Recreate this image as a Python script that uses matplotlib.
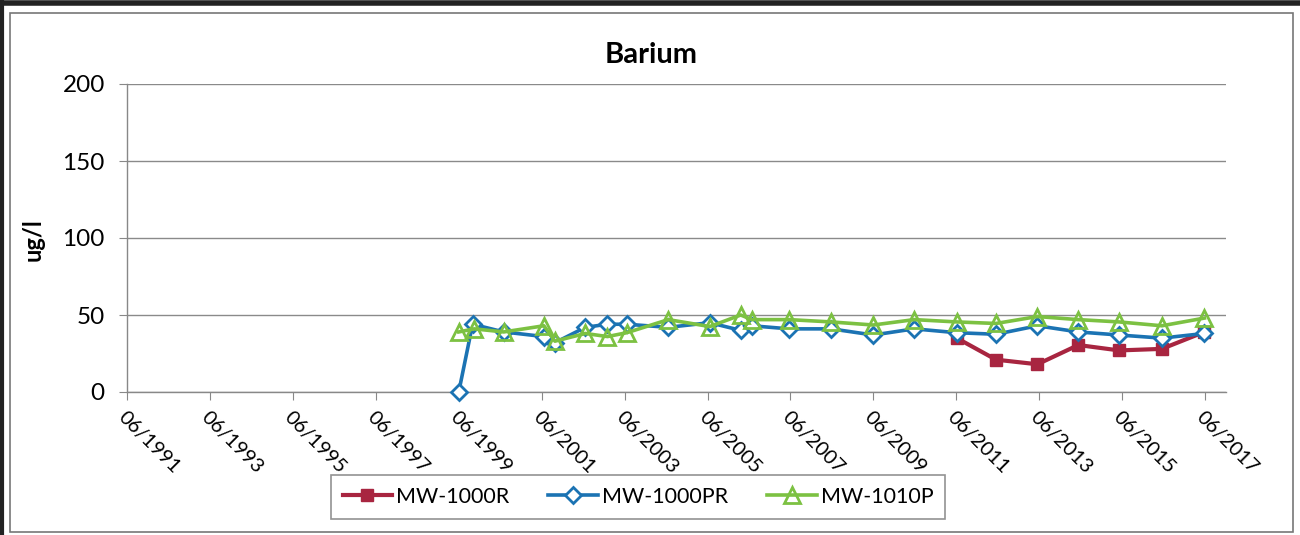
import matplotlib
matplotlib.use("Agg")
import matplotlib.pyplot as plt
from matplotlib.patches import Rectangle
from matplotlib.lines import Line2D
import pandas as pd

plt.rcParams['font.family'] = ['Lato', 'DejaVu Sans']

title = "Barium"
y_label = "ug/l"

r_dates = ["2011-06-05", "2012-05-15", "2013-05-15", "2014-05-10", "2015-05-05",
           "2016-05-15", "2017-05-25"]
r_vals = [35, 21, 18, 30.5, 27, 28, 39]

pr_dates = ["1999-06-01", "1999-10-01", "2000-07-01", "2001-06-20", "2001-09-25",
            "2002-06-20", "2003-01-01", "2003-06-20", "2004-06-20", "2005-06-20",
            "2006-03-20", "2006-06-25", "2007-05-20", "2008-05-25", "2009-05-30",
            "2010-05-25", "2011-06-05", "2012-05-15", "2013-05-15", "2014-05-10",
            "2015-05-05", "2016-05-15", "2017-05-25"]
pr_vals = [0, 44, 39, 36, 32, 42, 44, 44, 42, 45, 40, 43, 41, 41, 37,
           41, 38.5, 37.5, 43, 39, 37, 35, 38]

p_dates = ["1999-06-01", "1999-10-15", "2000-07-01", "2001-06-20", "2001-09-25",
           "2002-06-20", "2003-01-01", "2003-06-20", "2004-06-20", "2005-06-20",
           "2006-03-20", "2006-06-25", "2007-05-20", "2008-05-25", "2009-05-30",
           "2010-05-25", "2011-06-05", "2012-05-15", "2013-05-15", "2014-05-10",
           "2015-05-05", "2016-05-15", "2017-05-25"]
p_vals = [39, 41, 39, 43, 33, 38, 36, 38.5, 47, 42.5, 50, 47, 47, 45.5, 43.5,
          47, 45.5, 44.5, 49, 47, 45.5, 43, 48]

series_names = ["MW-1000R", "MW-1000PR", "MW-1010P"]
tick_years = list(range(1991, 2018, 2))
tick_labels = [f"06/{y}" for y in tick_years]
y_ticks = [0, 50, 100, 150, 200]

c_red = '#A82540'
c_blue = '#1B73B3'
c_green = '#7CC142'

fig = plt.figure(figsize=(13, 5.35), dpi=100)
# frame
fig.patches.append(Rectangle((10/1300, 3/535), 1283/1300, 519/535, transform=fig.transFigure,
                             fill=False, edgecolor='#777777', lw=1.2))
fig.lines.append(Line2D([0, 1], [1 - 2.5/535, 1 - 2.5/535], transform=fig.transFigure,
                        color='#222222', lw=4))
fig.lines.append(Line2D([2/1300, 2/1300], [0, 1], transform=fig.transFigure,
                        color='#222222', lw=3))

ax = fig.add_axes([127/1300, 143/535, 1099/1300, 308/535])

ax.plot(pd.to_datetime(r_dates), r_vals, color=c_red, lw=3, marker='s', ms=8.5,
        mfc=c_red, mec=c_red, label=series_names[0], zorder=3, clip_on=False)
ax.plot(pd.to_datetime(pr_dates), pr_vals, color=c_blue, lw=2.6, marker='D', ms=8,
        mfc='white', mec=c_blue, mew=2, label=series_names[1], zorder=4, clip_on=False)
ax.plot(pd.to_datetime(p_dates), p_vals, color=c_green, lw=2.6, marker='^', ms=11,
        mfc='none', mec=c_green, mew=2, label=series_names[2], zorder=5, clip_on=False)

ax.set_xlim(pd.Timestamp("1991-06-01"), pd.Timestamp("2017-12-01"))
ax.set_ylim(0, 200)
ax.set_yticks(y_ticks)
ax.set_yticklabels([str(v) for v in y_ticks], fontsize=17.5)
ticks = [pd.Timestamp(f"{y}-06-01") for y in tick_years]
ax.set_xticks(ticks)
ax.set_xticklabels(tick_labels, fontsize=14.5, rotation=-45, ha='left', rotation_mode='anchor')
ax.tick_params(axis='x', length=6, color='#888888', pad=6)
ax.tick_params(axis='y', length=6, color='#888888', pad=10)

ax.grid(axis='y', color='#8a8a8a', lw=1)
ax.set_axisbelow(True)
for s in ['top', 'right']:
    ax.spines[s].set_visible(False)
for s in ['left', 'bottom']:
    ax.spines[s].set_color('#888888')
    ax.spines[s].set_linewidth(1)

fig.text(651/1300, 1 - 55/535, title, fontsize=21, fontweight='bold', ha='center', va='center')
fig.text(33/1300, 1 - 240/535, y_label, fontsize=17, fontweight='bold', rotation=90,
         ha='center', va='center')

leg = ax.legend(loc='center', bbox_to_anchor=(638/1300, 1 - 497/535), bbox_transform=fig.transFigure,
                ncol=3, fontsize=15.5, frameon=True, fancybox=False, edgecolor='#777777',
                handlelength=2.3, columnspacing=1.8, borderpad=0.55, handletextpad=0.2)
leg.get_frame().set_linewidth(1.2)

fig.savefig("out.png", dpi=100)
